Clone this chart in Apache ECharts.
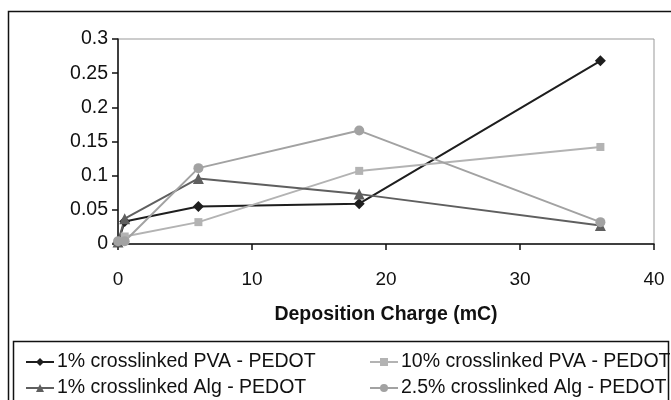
<!DOCTYPE html>
<html>
<head>
<meta charset="utf-8">
<script src="https://cdn.jsdelivr.net/npm/echarts@6/dist/echarts.min.js"></script>
<style>
    html, body { margin: 0; padding: 0; background: #fff; }
    #main { width: 671px; height: 400px; }
</style>
</head>
<body>
<div id="main"></div>
<script>
    // deposition charge (mC)
    var charge = [0, 0.5, 6, 18, 36];
    var seriesNames = [
        '1% crosslinked PVA - PEDOT',
        '10% crosslinked PVA - PEDOT',
        '1% crosslinked Alg - PEDOT',
        '2.5% crosslinked Alg - PEDOT'
    ];
    var pva1 = [0.002, 0.033, 0.055, 0.059, 0.268];
    var pva10 = [0.003, 0.011, 0.032, 0.107, 0.142];
    var alg1 = [0.003, 0.037, 0.096, 0.073, 0.027];
    var alg25 = [0.004, 0.004, 0.111, 0.166, 0.032];
    var yTicks = [0, 0.05, 0.1, 0.15, 0.2, 0.25, 0.3];
    var xTicks = [0, 10, 20, 30, 40];

    var font = 'Liberation Sans, Arial, sans-serif';

    function pairs(vals) {
        return charge.map(function (c, i) { return [c, vals[i]]; });
    }

    function mkSeries(name, vals, color, symbol, size) {
        return {
            name: name,
            type: 'line',
            data: pairs(vals),
            symbol: symbol,
            symbolSize: size,
            lineStyle: { color: color, width: 2 },
            itemStyle: { color: color },
            emphasis: { disabled: true }
        };
    }

    // one legend per entry so the 2x2 layout stays fixed
    function mkLegend(name, left, top) {
        return {
            data: [name],
            left: left, top: top,
            padding: 0,
            itemWidth: 28, itemHeight: 10, itemGap: 4,
            textStyle: { fontSize: 19.5, color: '#111', fontFamily: font, padding: [0, 0, 0, -2] }
        };
    }

    var chart = echarts.init(document.getElementById('main'));
    var option = {
        animation: false,
        backgroundColor: '#fff',
        textStyle: { fontFamily: font },
        graphic: [
            {
                type: 'rect',
                shape: { x: 8.5, y: 11.5, width: 670, height: 400 },
                style: { fill: 'none', stroke: '#111', lineWidth: 1.5 },
                silent: true
            },
            {
                type: 'rect',
                shape: { x: 13.5, y: 341.5, width: 655, height: 70 },
                style: { fill: 'none', stroke: '#111', lineWidth: 1.5 },
                silent: true
            }
        ],
        grid: {
            left: 118, top: 39, right: 17, bottom: 156,
            show: true, borderColor: '#999', borderWidth: 1
        },
        legend: [
            mkLegend(seriesNames[0], 25, 352),
            mkLegend(seriesNames[2], 25, 378),
            mkLegend(seriesNames[1], 369, 352),
            mkLegend(seriesNames[3], 369, 378)
        ],
        xAxis: {
            type: 'value',
            min: xTicks[0], max: xTicks[xTicks.length - 1], interval: 10,
            name: 'Deposition Charge (mC)',
            nameLocation: 'middle',
            nameGap: 61,
            nameTextStyle: { fontSize: 19.5, fontWeight: 'bold', color: '#111', fontFamily: font },
            axisLine: { lineStyle: { color: '#111', width: 1.5 } },
            axisTick: { show: true, length: 6, lineStyle: { color: '#111', width: 1.5 } },
            axisLabel: { fontSize: 19, color: '#111', margin: 26, fontFamily: font },
            splitLine: { show: false }
        },
        yAxis: {
            type: 'value',
            min: yTicks[0], max: yTicks[yTicks.length - 1], interval: 0.05,
            axisLine: { show: true, lineStyle: { color: '#111', width: 1.5 } },
            axisTick: { show: true, length: 6, lineStyle: { color: '#111', width: 1.5 } },
            axisLabel: { fontSize: 19.5, color: '#111', margin: 10, fontFamily: font },
            splitLine: { show: false }
        },
        series: [
            mkSeries(seriesNames[0], pva1, '#1e1e1e', 'diamond', 11),
            mkSeries(seriesNames[1], pva10, '#b3b3b3', 'rect', 8),
            mkSeries(seriesNames[2], alg1, '#5f5f5f', 'triangle', 11),
            mkSeries(seriesNames[3], alg25, '#a2a2a2', 'circle', 10)
        ]
    };
    chart.setOption(option);
</script>
</body>
</html>
